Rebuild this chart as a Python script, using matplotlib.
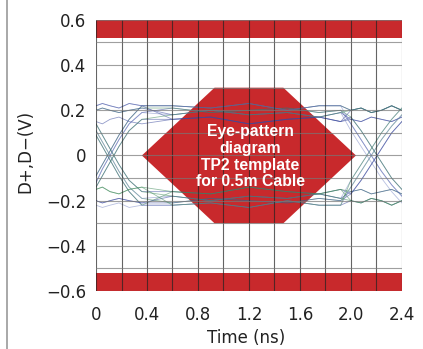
import matplotlib.pyplot as plt
from matplotlib.patches import Polygon
from matplotlib.lines import Line2D

# Sample times of the eye traces (ns)
t_pts = [0.0, 0.05, 0.11, 0.18, 0.26, 0.36, 0.6, 0.9, 1.2, 1.5, 1.75, 1.92,
         2.0, 2.08, 2.16, 2.24, 2.32, 2.4]

# Left part of the traces (0 .. 0.36 ns), volts
rise_a = [-0.12, -0.06, 0.00, 0.07, 0.14, 0.19]
rise_b = [-0.09, -0.04, 0.02, 0.09, 0.16, 0.22]
rise_c = [-0.14, -0.09, -0.03, 0.04, 0.11, 0.16]
fall_a = [0.11, 0.06, 0.00, -0.07, -0.14, -0.19]
fall_b = [0.09, 0.04, -0.02, -0.09, -0.16, -0.22]
fall_c = [0.14, 0.09, 0.03, -0.04, -0.11, -0.16]
high_a = [0.20, 0.21, 0.20, 0.19, 0.20, 0.21]
high_b = [0.15, 0.14, 0.16, 0.17, 0.15, 0.14]
high_c = [0.22, 0.23, 0.22, 0.21, 0.23, 0.22]
low_a = [-0.20, -0.21, -0.20, -0.19, -0.20, -0.21]
low_b = [-0.15, -0.14, -0.16, -0.17, -0.15, -0.14]
low_c = [-0.22, -0.23, -0.22, -0.21, -0.23, -0.22]

# Middle part (0.6 .. 1.92 ns)
mid_hi_a = [0.21, 0.19, 0.20, 0.21, 0.19, 0.20]
mid_hi_b = [0.16, 0.17, 0.14, 0.16, 0.17, 0.15]
mid_hi_c = [0.22, 0.21, 0.23, 0.20, 0.22, 0.22]
mid_hi_d = [0.18, 0.20, 0.18, 0.19, 0.17, 0.19]
mid_lo_a = [-0.21, -0.19, -0.20, -0.21, -0.19, -0.20]
mid_lo_b = [-0.16, -0.17, -0.14, -0.16, -0.17, -0.15]
mid_lo_c = [-0.22, -0.21, -0.23, -0.20, -0.22, -0.22]
mid_lo_d = [-0.18, -0.20, -0.18, -0.19, -0.17, -0.19]

# Right part (2.0 .. 2.4 ns)
r_fall_a = [0.14, 0.07, 0.00, -0.07, -0.13, -0.18]
r_fall_b = [0.17, 0.11, 0.04, -0.03, -0.10, -0.15]
r_fall_c = [0.11, 0.04, -0.03, -0.10, -0.16, -0.21]
r_rise_a = [-0.14, -0.07, 0.00, 0.07, 0.13, 0.18]
r_rise_b = [-0.17, -0.11, -0.04, 0.03, 0.10, 0.15]
r_rise_c = [-0.11, -0.04, 0.03, 0.10, 0.16, 0.21]
r_hi = [0.20, 0.21, 0.19, 0.20, 0.22, 0.20]
r_hi_b = [0.16, 0.15, 0.17, 0.16, 0.15, 0.17]
r_lo = [-0.20, -0.21, -0.19, -0.20, -0.22, -0.20]
r_lo_b = [-0.16, -0.15, -0.17, -0.16, -0.15, -0.17]

blue = "#3b4a9e"
green = "#3f8a5a"
lblue = "#7d8cc8"
traces = [
    (rise_a, mid_hi_a, r_fall_a, blue),
    (rise_b, mid_hi_c, r_hi, green),
    (rise_c, mid_hi_b, r_fall_b, blue),
    (rise_a, mid_hi_d, r_fall_c, lblue),
    (rise_b, mid_hi_b, r_hi_b, blue),
    (fall_a, mid_lo_a, r_rise_a, green),
    (fall_b, mid_lo_c, r_lo, blue),
    (fall_c, mid_lo_b, r_rise_b, blue),
    (fall_a, mid_lo_d, r_rise_c, lblue),
    (fall_b, mid_lo_b, r_lo_b, green),
    (high_a, mid_hi_a, r_fall_b, green),
    (high_b, mid_hi_b, r_hi, blue),
    (high_c, mid_hi_c, r_fall_a, lblue),
    (high_a, mid_hi_d, r_hi_b, blue),
    (low_a, mid_lo_a, r_rise_b, blue),
    (low_b, mid_lo_b, r_lo, green),
    (low_c, mid_lo_c, r_rise_a, lblue),
    (low_a, mid_lo_d, r_lo_b, blue),
    (high_c, mid_hi_c, r_hi, blue),
    (low_b, mid_lo_c, r_rise_c, green),
    (rise_c, mid_hi_d, r_hi, green),
    (fall_c, mid_lo_d, r_lo, green),
]

# TP2 template hexagon
template_t = [0.36, 0.93, 1.47, 2.04, 1.47, 0.93]
template_v = [0.0, 0.30, 0.30, 0.0, -0.30, -0.30]
limit_band = [0.52, 0.6]

x_ticks = [0, 0.4, 0.8, 1.2, 1.6, 2.0, 2.4]
x_labels = ["0", "0.4", "0.8", "1.2", "1.6", "2.0", "2.4"]
y_ticks = [-0.6, -0.4, -0.2, 0, 0.2, 0.4, 0.6]
y_labels = ["\u22120.6", "\u22120.4", "\u22120.2", "0", "0.2", "0.4", "0.6"]

red = "#c8292c"

fig = plt.figure(figsize=(4.23, 3.49), dpi=100)
ax = fig.add_axes([0.227, 0.166, 0.723, 0.777])

ax.axhspan(limit_band[0], limit_band[1], color=red, lw=0, zorder=1)
ax.axhspan(-limit_band[1], -limit_band[0], color=red, lw=0, zorder=1)
ax.add_patch(Polygon(list(zip(template_t, template_v)), closed=True,
                     facecolor=red, edgecolor="none", zorder=2))

for left, mid, right, col in traces:
    ax.plot(t_pts, left + mid + right, color=col, lw=0.6, alpha=0.55, zorder=3)

# grid
for x in [i * 0.2 for i in range(13)]:
    ax.axvline(x, color="#222222", lw=0.8, alpha=0.7, zorder=4)
for y in [i * 0.1 - 0.6 for i in range(13)]:
    ax.axhline(y, color="#777777", lw=0.8, alpha=0.7, zorder=4)

ax.text(1.21, -0.005, "Eye-pattern\ndiagram\nTP2 template\nfor 0.5m Cable",
        ha="center", va="center", color="white", fontsize=11.3,
        fontweight="bold", family="Liberation Sans", linespacing=1.15,
        zorder=5)

ax.set_xlim(0, 2.4)
ax.set_ylim(-0.6, 0.6)
ax.set_xticks(x_ticks)
ax.set_xticklabels(x_labels)
ax.set_yticks(y_ticks)
ax.set_yticklabels(y_labels)
ax.tick_params(length=0, labelsize=12, colors="#222222")
ax.tick_params(axis="x", pad=11)
ax.tick_params(axis="y", pad=7)
for s in ax.spines.values():
    s.set_visible(False)

fig.text(0.06, 0.565, "D+,D\u2212(V)", rotation=90, ha="center", va="center",
         fontsize=12, color="#222222")
fig.text(0.582, 0.032, "Time (ns)", ha="center", va="center",
         fontsize=12, color="#222222")

fig.add_artist(Line2D([0.017, 0.017], [0, 1], color="#999999", lw=1.2,
                      transform=fig.transFigure))

fig.savefig("out.png", dpi=100)
